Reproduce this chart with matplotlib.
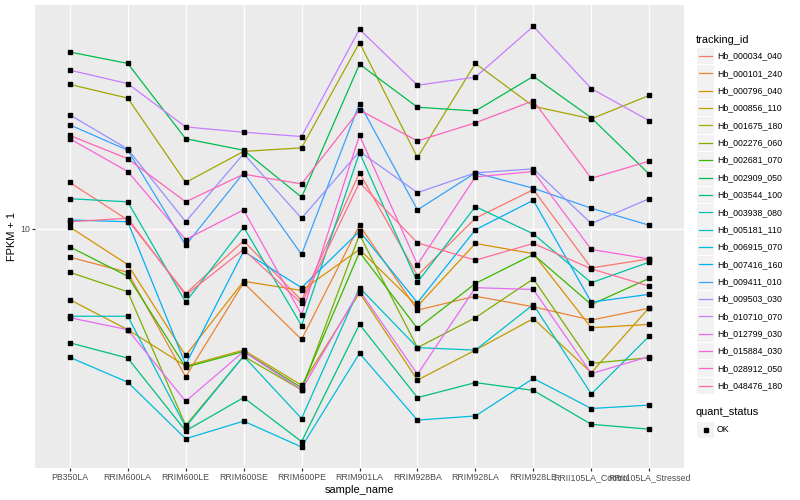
import matplotlib.pyplot as plt
from matplotlib.lines import Line2D
from matplotlib.patches import Rectangle
from matplotlib.ticker import NullLocator, NullFormatter

plt.rcParams['font.family'] = ['Liberation Sans', 'DejaVu Sans']

samples = ["PB350LA", "RRIM600LA", "RRIM600LE", "RRIM600SE", "RRIM600PE", "RRIM901LA",
           "RRIM928BA", "RRIM928LA", "RRIM928LE", "RRII105LA_Control", "RRII105LA_Stressed"]

tracking_ids = ["Hb_000034_040", "Hb_000101_240", "Hb_000796_040", "Hb_000856_110",
                "Hb_001675_180", "Hb_002276_060", "Hb_002681_070", "Hb_002909_050",
                "Hb_003544_100", "Hb_003938_080", "Hb_005181_110", "Hb_006915_070",
                "Hb_007416_160", "Hb_009411_010", "Hb_009503_030", "Hb_010710_070",
                "Hb_012799_030", "Hb_015884_030", "Hb_028912_050", "Hb_048476_180"]

# ggplot hue palette, 20 levels
colors = ["#F8766D", "#EA8331", "#D89000", "#C09B00", "#A3A500", "#7CAE00", "#39B600",
          "#00BB4E", "#00BF7D", "#00C1A3", "#00BFC4", "#00BAE0", "#00B0F6", "#35A2FF",
          "#9590FF", "#C77CFF", "#E76BF3", "#FA62DB", "#FF62BC", "#FF6C91"]

# FPKM + 1, one value per sample
hb_000034_040 = [12.9, 10.5, 7.01, 9.36, 6.75, 13.6, 7.74, 10.6, 12.4, 8.07, 8.48]
hb_000101_240 = [8.56, 7.88, 4.44, 7.44, 5.45, 10.2, 6.40, 6.91, 6.52, 6.06, 6.47]
hb_000796_040 = [10.1, 8.22, 4.99, 7.50, 7.13, 8.93, 6.54, 9.23, 8.73, 5.81, 5.92]
hb_000856_110 = [6.78, 5.75, 4.71, 5.14, 4.24, 7.04, 4.36, 5.14, 6.11, 4.54, 6.49]
hb_001675_180 = [22.1, 20.5, 12.9, 15.3, 15.6, 27.8, 14.8, 24.8, 19.6, 18.3, 20.8]
hb_002276_060 = [7.88, 7.08, 3.40, 4.97, 4.13, 9.69, 5.21, 6.14, 7.60, 4.78, 4.93]
hb_002681_070 = [9.06, 7.71, 4.68, 5.10, 4.18, 8.80, 5.79, 7.41, 8.69, 6.60, 7.62]
hb_002909_050 = [26.4, 24.8, 16.4, 15.4, 11.9, 24.7, 19.5, 19.1, 23.1, 18.4, 13.5]
hb_003544_100 = [5.35, 4.92, 3.30, 3.96, 3.11, 5.92, 3.96, 4.30, 4.12, 3.42, 3.33]
hb_003938_080 = [11.8, 11.6, 6.69, 10.1, 5.88, 15.2, 7.46, 11.3, 9.73, 7.44, 8.33]
hb_005181_110 = [6.19, 6.19, 3.37, 4.97, 3.53, 7.24, 5.21, 5.14, 6.60, 4.04, 5.55]
hb_006915_070 = [4.94, 4.31, 3.16, 3.48, 3.02, 5.05, 3.50, 3.58, 4.40, 3.73, 3.80]
hb_007416_160 = [10.5, 10.4, 4.75, 8.84, 7.24, 9.87, 6.67, 9.95, 11.7, 6.69, 6.98]
hb_009411_010 = [17.7, 15.4, 9.14, 13.6, 8.69, 19.9, 11.1, 13.6, 12.5, 11.2, 10.2]
hb_009503_030 = [18.7, 15.5, 10.4, 15.1, 10.6, 15.3, 12.2, 13.6, 13.9, 10.3, 11.8]
hb_010710_070 = [23.9, 22.2, 17.5, 17.0, 16.6, 29.9, 22.0, 23.0, 30.4, 21.6, 18.1]
hb_012799_030 = [6.14, 5.75, 3.88, 5.10, 4.13, 7.13, 4.50, 7.24, 7.17, 4.52, 4.96]
hb_015884_030 = [16.4, 13.7, 9.43, 11.1, 6.24, 16.7, 8.22, 13.3, 13.7, 8.93, 8.48]
hb_028912_050 = [16.7, 14.7, 11.6, 13.5, 12.8, 19.2, 16.2, 17.9, 20.2, 13.2, 14.5]
hb_048476_180 = [10.4, 10.6, 6.95, 8.93, 6.64, 12.9, 9.26, 8.42, 9.23, 8.03, 7.30]

series = [hb_000034_040, hb_000101_240, hb_000796_040, hb_000856_110, hb_001675_180,
          hb_002276_060, hb_002681_070, hb_002909_050, hb_003544_100, hb_003938_080,
          hb_005181_110, hb_006915_070, hb_007416_160, hb_009411_010, hb_009503_030,
          hb_010710_070, hb_012799_030, hb_015884_030, hb_028912_050, hb_048476_180]

W, H = 800, 500
fig = plt.figure(figsize=(8, 5), dpi=100)
ax = fig.add_axes([35 / W, 1 - 468 / H, (684 - 35) / W, (468 - 5.3) / H])
ax.set_facecolor('#EBEBEB')
ax.set_yscale('log')

x = list(range(len(samples)))
for vals, c in zip(series, colors):
    ax.plot(x, vals, color=c, lw=0.9, zorder=2)
for vals in series:
    ax.plot(x, vals, ls='none', marker='s', ms=2.6, color='black', zorder=3)

ax.set_xlim(-0.6, len(samples) - 0.4)
ax.margins(y=0.05)
ax.set_xticks(x)
ax.set_xticklabels(samples)
ax.set_yticks([10])
ax.set_yticklabels(['10'])
ax.yaxis.set_minor_locator(NullLocator())
ax.yaxis.set_minor_formatter(NullFormatter())

ax.grid(True, which='major', color='white', lw=1.0)
ax.set_axisbelow(True)
for s in ax.spines.values():
    s.set_visible(False)
ax.tick_params(axis='both', which='major', length=2.0, width=0.9, color='#333333',
               labelsize=6.3, labelcolor='#4D4D4D', pad=1.6)
ax.set_xlabel('sample_name', fontsize=7.9, labelpad=2.0)
ax.set_ylabel('FPKM + 1', fontsize=7.9, labelpad=2.5)


def fx(px):
    return px / W


def fy(py):
    return 1 - py / H


# legend: tracking_id
fig.text(fx(696), fy(40), 'tracking_id', fontsize=7.9, ha='left', va='center')
step = 17.36
for i, (name, c) in enumerate(zip(tracking_ids, colors)):
    yc = 56 + i * step
    fig.add_artist(Rectangle((fx(697), fy(yc + 8.3)), 17 / W, 16.6 / H,
                             facecolor='#F2F2F2', edgecolor='none'))
    fig.add_artist(Line2D([fx(698.7), fx(712.3)], [fy(yc), fy(yc)], color=c, lw=0.9))
    fig.text(fx(717), fy(yc), name, fontsize=6.3, ha='left', va='center')

# legend: quant_status
fig.text(fx(696), fy(412), 'quant_status', fontsize=7.9, ha='left', va='center')
fig.add_artist(Rectangle((fx(697), fy(430 + 8.3)), 17 / W, 16.6 / H,
                         facecolor='#F2F2F2', edgecolor='none'))
fig.add_artist(Line2D([fx(705.5)], [fy(430)], ls='none', marker='s', ms=2.6, color='black'))
fig.text(fx(717), fy(430), 'OK', fontsize=6.3, ha='left', va='center')

fig.savefig('out.png', dpi=100)
